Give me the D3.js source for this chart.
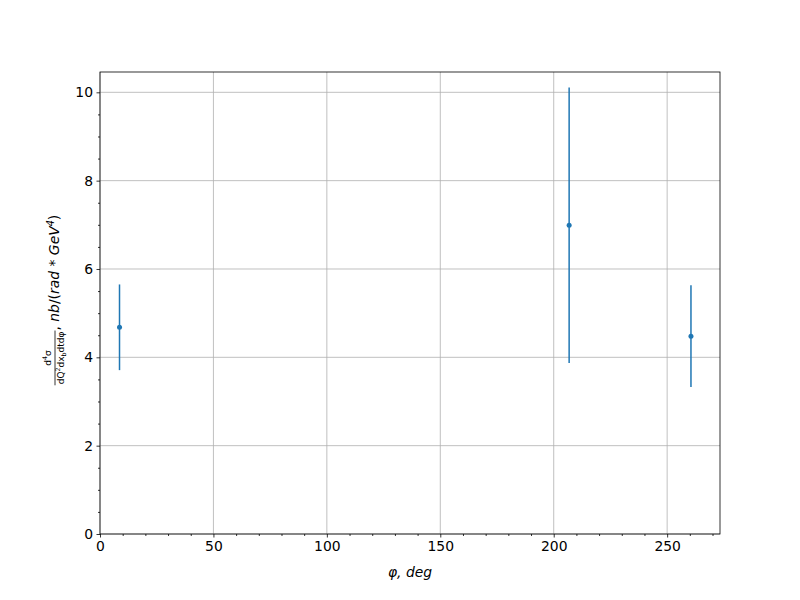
<!DOCTYPE html>
<html><head><meta charset="utf-8">
<script src="https://cdn.jsdelivr.net/npm/d3@7"></script>
<style>body{margin:0;background:#fff}svg{display:block}text{font-family:"DejaVu Sans",sans-serif}</style>
</head><body><svg id="c" width="800" height="600"></svg>
<script>
const phi = [8.6, 206.8, 260.5];
const sigma = [4.68, 6.99, 4.48];
const err = [0.97, 3.12, 1.15];
const xTicks = [0, 50, 100, 150, 200, 250];
const yTicks = [0, 2, 4, 6, 8, 10];

const svg = d3.select("#c");
const L = 100, R = 720, T = 72, B = 534;
const x = d3.scaleLinear().domain([0, 273.3]).range([L, R]);
const y = d3.scaleLinear().domain([0, 10.46]).range([B, T]);
const fs = 13.9;

// grid
const g = svg.append("g");
g.selectAll(".gx").data(xTicks).join("line")
  .attr("x1", d => x(d)).attr("x2", d => x(d)).attr("y1", T).attr("y2", B)
  .attr("stroke", "#b0b0b0").attr("stroke-width", 0.8);
g.selectAll(".gy").data(yTicks).join("line")
  .attr("y1", d => y(d)).attr("y2", d => y(d)).attr("x1", L).attr("x2", R)
  .attr("stroke", "#b0b0b0").attr("stroke-width", 0.8);

// axes
const xAxis = d3.axisBottom(x).tickValues(xTicks).tickSize(3.5).tickPadding(3.5).tickFormat(d3.format("d"));
const xMinor = d3.axisBottom(x).tickValues(d3.range(0, 274, 10).filter(v => v % 50 !== 0)).tickSize(2).tickFormat("");
const yAxis = d3.axisLeft(y).tickValues(yTicks).tickSize(3.5).tickPadding(3.5).tickFormat(d3.format("d"));
const yMinor = d3.axisLeft(y).tickValues(d3.range(0, 10.46, 0.5).filter(v => v % 2 !== 0)).tickSize(2).tickFormat("");
function style(sel) {
  sel.select(".domain").remove();
  sel.selectAll("line").attr("stroke", "#000").attr("stroke-width", 0.8);
  sel.selectAll("text").attr("font-size", fs).attr("fill", "#000").attr("font-family", "DejaVu Sans");
}
svg.append("g").attr("transform", `translate(0,${B})`).call(xAxis).call(style);
svg.append("g").attr("transform", `translate(0,${B})`).call(xMinor).call(style);
svg.append("g").attr("transform", `translate(${L},0)`).call(yAxis).call(style);
svg.append("g").attr("transform", `translate(${L},0)`).call(yMinor).call(style);

// spines
svg.append("rect").attr("x", L).attr("y", T).attr("width", R - L).attr("height", B - T)
  .attr("fill", "none").attr("stroke", "#000").attr("stroke-width", 0.8);

// data
const col = "#1f77b4";
const pts = phi.map((p, i) => ({p, s: sigma[i], e: err[i]}));
svg.selectAll(".eb").data(pts).join("line")
  .attr("x1", d => x(d.p)).attr("x2", d => x(d.p))
  .attr("y1", d => y(d.s - d.e)).attr("y2", d => y(d.s + d.e))
  .attr("stroke", col).attr("stroke-width", 1.5);
svg.selectAll(".pt").data(pts).join("circle")
  .attr("cx", d => x(d.p)).attr("cy", d => y(d.s)).attr("r", 2.5).attr("fill", col);

// x label
const xl = svg.append("text").attr("x", (L + R) / 2).attr("y", 577).attr("text-anchor", "middle")
  .attr("font-size", fs).attr("font-style", "italic");
xl.append("tspan").text("φ, deg");

// y label (rotated)
const yl = svg.append("g").attr("transform", "rotate(-90)");
const sf = 9;
const num = yl.append("text").attr("font-size", sf).attr("text-anchor", "middle");
num.append("tspan").text("d");
num.append("tspan").attr("font-size", sf * 0.7).attr("dy", -4).text("4");
num.append("tspan").attr("dy", 4).text("σ");
const den = yl.append("text").attr("font-size", sf).attr("text-anchor", "middle");
den.append("tspan").text("dQ");
den.append("tspan").attr("font-size", sf * 0.7).attr("dy", -4).text("2");
den.append("tspan").attr("dy", 4).text("dx");
den.append("tspan").attr("font-size", sf * 0.7).attr("dy", 2).text("b");
den.append("tspan").attr("dy", -2).text("dtdφ");
const main = yl.append("text").attr("font-size", fs).attr("text-anchor", "start");
main.append("tspan").text(", ");
main.append("tspan").attr("font-style", "italic").text("nb");
main.append("tspan").text("/(");
main.append("tspan").attr("font-style", "italic").text("rad");
main.append("tspan").text(" * ");
main.append("tspan").attr("font-style", "italic").text("GeV");
main.append("tspan").attr("font-style", "italic").attr("font-size", fs * 0.7).attr("dy", -5).text("4");
main.append("tspan").attr("dy", 5).text(")");

const fw = den.node().getComputedTextLength() + 2;
const mw = main.node().getComputedTextLength();
const total = fw + mw;
const cy = 300;
const start = -(cy + total / 2); // local x of start (bottom on screen)
const fc = start + fw / 2;
num.attr("x", fc).attr("y", 51);
den.attr("x", fc).attr("y", 64);
yl.append("line").attr("x1", start).attr("x2", start + fw).attr("y1", 55).attr("y2", 55)
  .attr("stroke", "#000").attr("stroke-width", 0.8);
main.attr("x", start + fw).attr("y", 59);
</script></body></html>
